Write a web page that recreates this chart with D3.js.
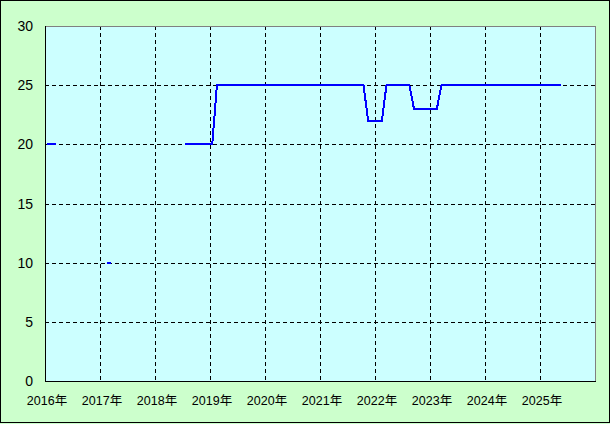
<!DOCTYPE html>
<html>
<head>
<meta charset="utf-8">
<script src="https://cdn.jsdelivr.net/npm/d3@7"></script>
<style>
  html, body { margin: 0; padding: 0; background: #ccffcc; }
  svg { display: block; }
</style>
</head>
<body>
<script>
// Year tick labels (x axis categories, one per year)
const yearLabels = ["2016年","2017年","2018年","2019年","2020年","2021年","2022年","2023年","2024年","2025年"];
// Y axis ticks
const yTicks = [0, 5, 10, 15, 20, 25, 30];
// Monthly values, Jan 2016 onward (null = no data)
const values2016 = [20, 20, 20, null, null, null, null, null, null, null, null, null];
const values2017 = [null, 10, 10, null, null, null, null, null, null, null, null, null];
const values2018 = [null, null, null, null, null, null, 20, 20, 20, 20, 20, 20];
const values2019 = [20, 25, 25, 25, 25, 25, 25, 25, 25, 25, 25, 25];
const values2020 = [25, 25, 25, 25, 25, 25, 25, 25, 25, 25, 25, 25];
const values2021 = [25, 25, 25, 25, 25, 25, 25, 25, 25, 25, 22, 22];
const values2022 = [22, 22, 25, 25, 25, 25, 25, 25, 23, 23, 23, 23];
const values2023 = [23, 23, 25, 25, 25, 25, 25, 25, 25, 25, 25, 25];
const values2024 = [25, 25, 25, 25, 25, 25, 25, 25, 25, 25, 25, 25];
const values2025 = [25, 25, 25, 25, 25];

const values = [].concat(values2016, values2017, values2018, values2019, values2020,
                         values2021, values2022, values2023, values2024, values2025);
const data = values.map((v, i) => ({ m: i, v: v }));

const W = 610, H = 424;
const L = 45, R = 595, T = 26, B = 381;

const svg = d3.select("body").append("svg").attr("width", W).attr("height", H);

// background + outer frame
svg.append("rect").attr("x", 0).attr("y", 0).attr("width", W).attr("height", H).attr("fill", "#ccffcc");
svg.append("rect").attr("x", 0.5).attr("y", 0.5).attr("width", 609).attr("height", 422)
  .attr("fill", "none").attr("stroke", "#000").attr("stroke-width", 1);

const x = d3.scaleLinear().domain([0, yearLabels.length * 12]).range([L, R]);
const y = d3.scaleLinear().domain([0, 30]).range([B, T]);
const px = v => Math.round(v) + 0.5;

// plot area
svg.append("rect").attr("x", L).attr("y", T).attr("width", R - L).attr("height", B - T).attr("fill", "#ccffff");

// grid lines
const grid = svg.append("g").attr("shape-rendering", "crispEdges");
grid.selectAll("line.h").data(yTicks.filter(t => t > 0 && t < 30)).enter().append("line")
  .attr("x1", L).attr("x2", R).attr("y1", d => px(y(d))).attr("y2", d => px(y(d)))
  .attr("stroke", "#000").attr("stroke-width", 1).attr("stroke-dasharray", "4,3");
grid.selectAll("line.v").data(yearLabels.slice(1)).enter().append("line")
  .attr("x1", (d, i) => px(x((i + 1) * 12))).attr("x2", (d, i) => px(x((i + 1) * 12)))
  .attr("y1", T).attr("y2", B)
  .attr("stroke", "#000").attr("stroke-width", 1).attr("stroke-dasharray", "4,3");

// frame of plot
const frame = svg.append("g").attr("shape-rendering", "crispEdges");
frame.append("line").attr("x1", L).attr("x2", R + 1).attr("y1", px(T)).attr("y2", px(T)).attr("stroke", "#808080");
frame.append("line").attr("x1", px(R)).attr("x2", px(R)).attr("y1", T).attr("y2", B).attr("stroke", "#808080");
frame.append("line").attr("x1", px(L)).attr("x2", px(L)).attr("y1", T).attr("y2", B + 1).attr("stroke", "#000");
frame.append("line").attr("x1", L).attr("x2", R + 1).attr("y1", px(B)).attr("y2", px(B)).attr("stroke", "#000");

// y labels
svg.append("g").selectAll("text").data(yTicks).enter().append("text")
  .attr("x", 33).attr("y", d => y(d)).attr("dy", "0.36em")
  .attr("text-anchor", "end")
  .attr("font-family", "Liberation Sans, Arial, sans-serif").attr("font-size", 14)
  .attr("fill", "#000").text(d => d);

// x labels
svg.append("g").selectAll("text").data(yearLabels).enter().append("text")
  .attr("x", (d, i) => x(i * 12) + 2).attr("y", 405)
  .attr("text-anchor", "middle")
  .attr("font-family", "Liberation Sans, 'Noto Sans CJK JP', sans-serif").attr("font-size", 12.5)
  .attr("fill", "#000").text(d => d);

// series line
const line = d3.line()
  .defined(d => d.v !== null)
  .x(d => x(d.m + 0.5))
  .y(d => y(d.v));
svg.append("path").datum(data)
  .attr("d", line)
  .attr("fill", "none").attr("stroke", "#0000ff").attr("stroke-width", 2)
  .attr("stroke-linejoin", "miter")
  .attr("shape-rendering", "crispEdges");
</script>
</body>
</html>
